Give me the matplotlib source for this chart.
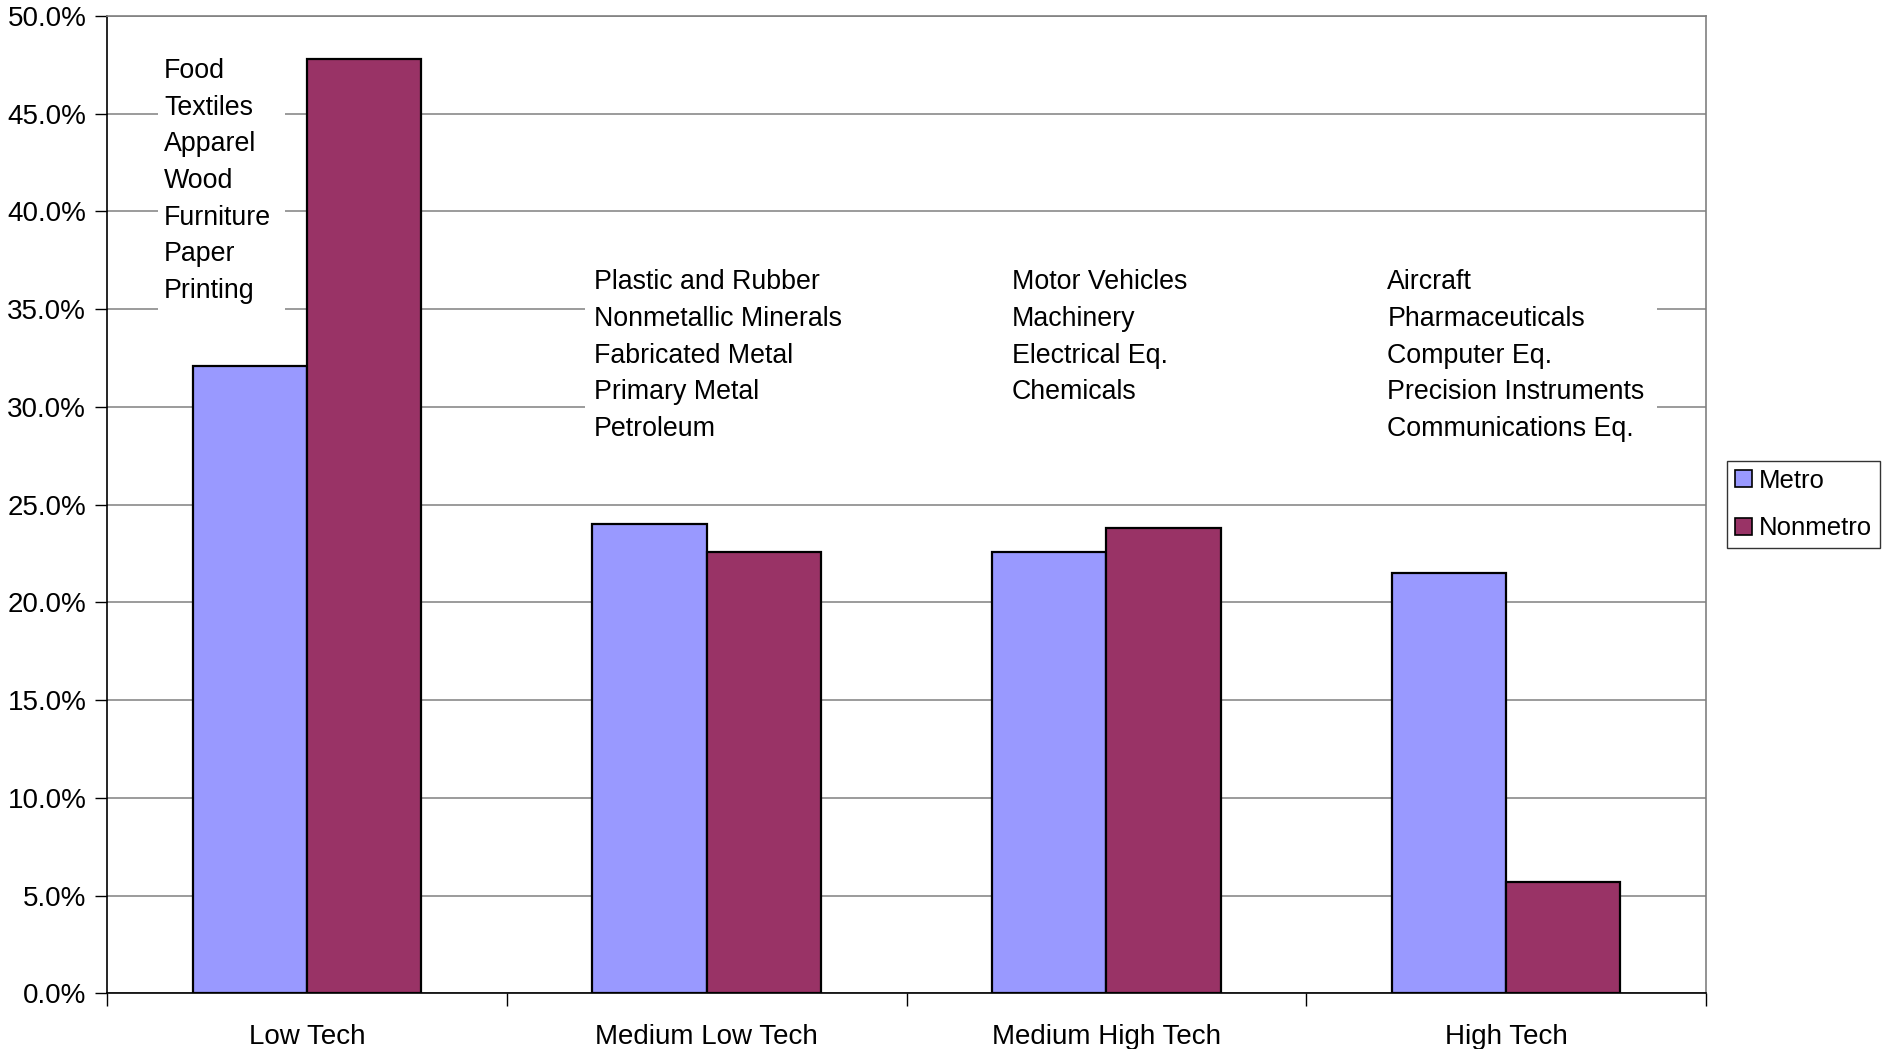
import matplotlib
matplotlib.use("Agg")
import matplotlib.pyplot as plt
from matplotlib.patches import Rectangle, Patch
from matplotlib.ticker import FuncFormatter, MultipleLocator
import numpy as np

categories = ["Low Tech", "Medium Low Tech", "Medium High Tech", "High Tech"]
metro = [32.1, 24.0, 22.6, 21.5]
nonmetro = [47.8, 22.6, 23.8, 5.7]
industries = [
    ["Food", "Textiles", "Apparel", "Wood", "Furniture", "Paper", "Printing"],
    ["Plastic and Rubber", "Nonmetallic Minerals", "Fabricated Metal",
     "Primary Metal", "Petroleum"],
    ["Motor Vehicles", "Machinery", "Electrical Eq.", "Chemicals"],
    ["Aircraft", "Pharmaceuticals", "Computer Eq.", "Precision Instruments",
     "Communications Eq."],
]
series_names = ["Metro", "Nonmetro"]

plt.rcParams["font.family"] = ["Liberation Sans", "DejaVu Sans"]
FS = 20
FS_NOTE = 19.3

fig = plt.figure(figsize=(18.82, 10.49), dpi=100)
ax = fig.add_axes([0.0569, 0.0531, 0.8496, 0.9316])

x = np.arange(len(categories))
w = 1 / 3.5
c_metro = "#9999FF"
c_non = "#993366"
ax.bar(x - w / 2, metro, w, color=c_metro, edgecolor="black", linewidth=1.6, zorder=3)
ax.bar(x + w / 2, nonmetro, w, color=c_non, edgecolor="black", linewidth=1.6, zorder=3)

ax.set_xlim(-0.5, 3.5)
ax.set_ylim(0, 50)
ax.yaxis.set_major_locator(MultipleLocator(5))
ax.yaxis.set_major_formatter(FuncFormatter(lambda v, p: f"{v:.1f}%"))
ax.yaxis.grid(True, color="#808080", linewidth=1.1, zorder=0)
ax.set_axisbelow(True)

# category labels centred, tick marks at group boundaries
ax.set_xticks(x)
ax.set_xticklabels(categories, fontsize=FS)
ax.tick_params(axis="x", length=0, pad=22)
ax.set_xticks(np.arange(-0.5, 4.0, 1.0), minor=True)
ax.tick_params(axis="x", which="minor", length=9, width=1, color="black", direction="out")
ax.tick_params(axis="y", labelsize=FS, length=9, width=1, pad=6)

for s in ["top", "right"]:
    ax.spines[s].set_color("#808080")
    ax.spines[s].set_linewidth(1.2)
ax.spines["left"].set_color("black")
ax.spines["bottom"].set_color("black")
ax.spines["left"].set_linewidth(1.2)
ax.spines["bottom"].set_linewidth(1.2)

# white panels behind the industry lists
ax.add_patch(Rectangle((-0.372, 34.0), 0.316, 15.0, facecolor="white",
                       edgecolor="none", zorder=1))
ax.add_patch(Rectangle((0.696, 27.8), 2.681, 10.0, facecolor="white",
                       edgecolor="none", zorder=1))

text_x = [-0.357, 0.718, 1.763, 2.703]
text_top = [47.18, 36.38, 36.38, 36.38]
step = 1.875
for tx, ty, lines in zip(text_x, text_top, industries):
    for k, line in enumerate(lines):
        ax.text(tx, ty - k * step, line, fontsize=FS_NOTE, ha="left",
                va="center", zorder=4)

handles = [Patch(facecolor=c_metro, edgecolor="black", linewidth=1.2),
           Patch(facecolor=c_non, edgecolor="black", linewidth=1.2)]
leg = fig.legend(handles, series_names, loc="upper left",
                 bbox_to_anchor=(0.9177, 0.5605), borderaxespad=0,
                 fontsize=18.5, frameon=True, fancybox=False, handlelength=0.65,
                 handleheight=0.65, handletextpad=0.3, borderpad=0.3,
                 labelspacing=0.92)
leg.get_frame().set_edgecolor("black")
leg.get_frame().set_linewidth(1.0)

fig.savefig("out.png", dpi=100, facecolor="white")
